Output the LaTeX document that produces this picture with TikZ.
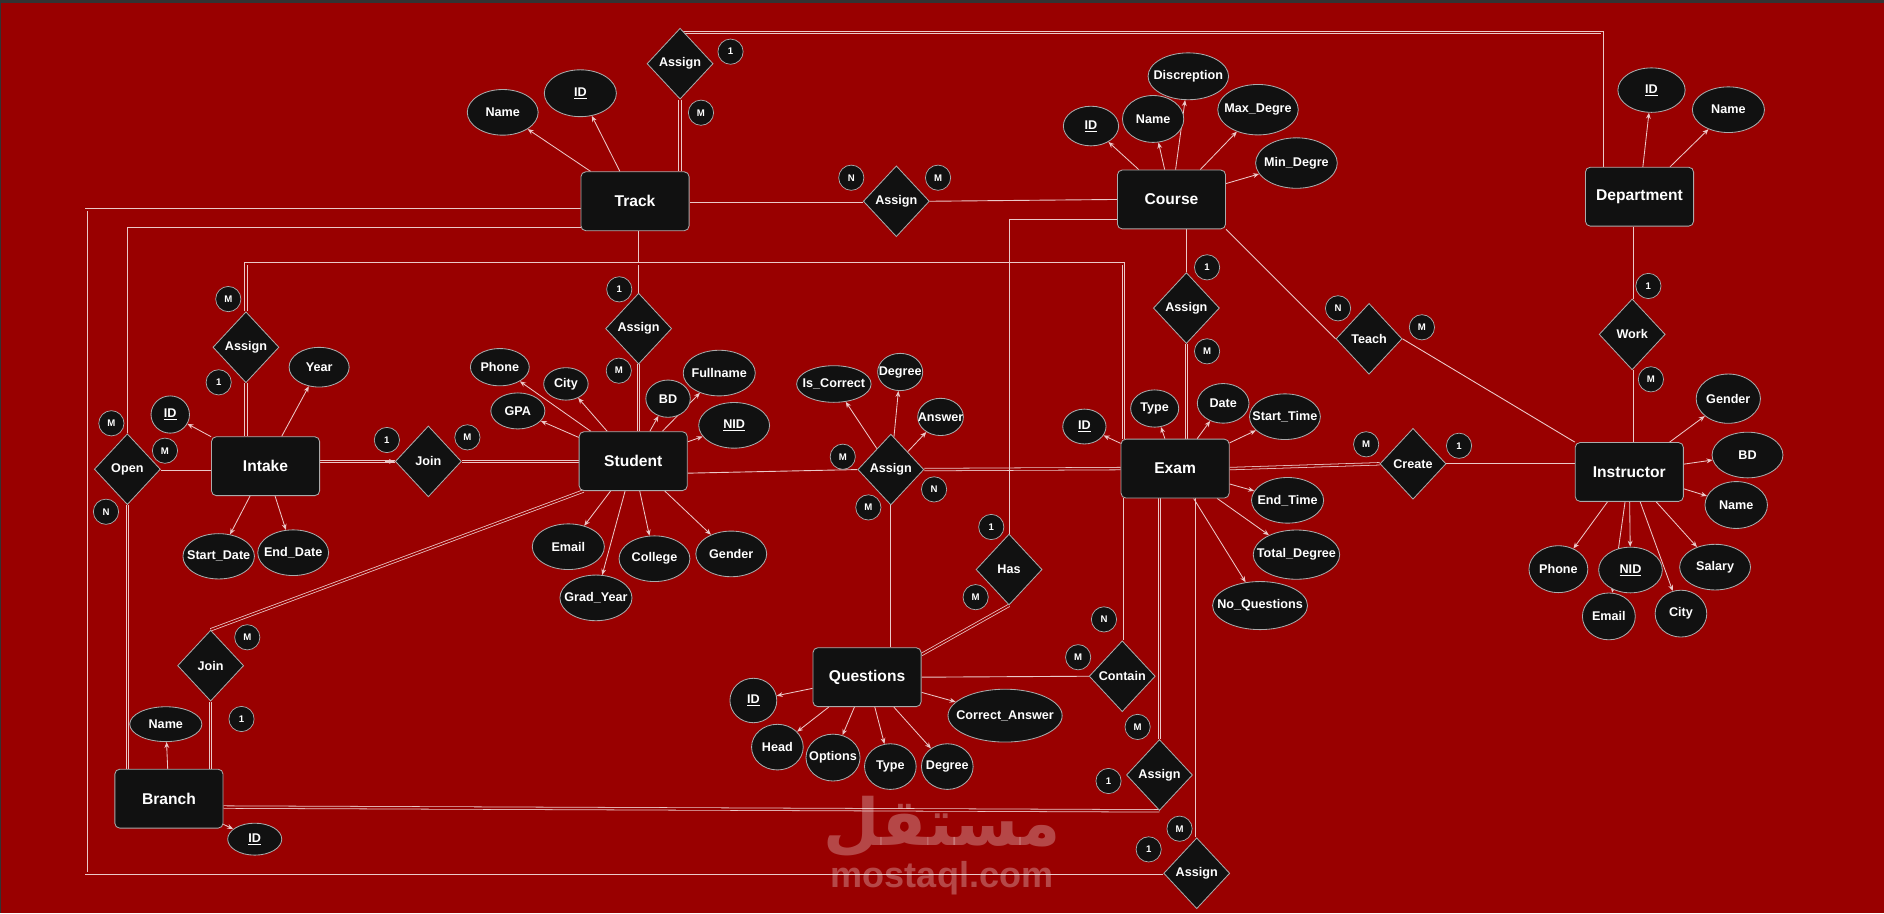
\documentclass[tikz,border=0pt]{standalone}
\usepackage{fontspec}
\setmainfont{Liberation Sans}
\newfontfamily\arabicfont[Script=Arabic]{DejaVu Sans}
\TeXXeTstate=1
\usetikzlibrary{shapes.geometric,arrows.meta,calc}
\definecolor{bgred}{RGB}{153,0,0}
\definecolor{nodef}{RGB}{17,17,17}
\definecolor{nodeb}{RGB}{170,170,170}
\definecolor{linec}{RGB}{235,200,200}
\pgfdeclarelayer{bg}
\pgfsetlayers{bg,main}
\tikzset{
  ent/.style={draw=nodeb, fill=nodef, rounded corners=4pt, minimum width=90pt, minimum height=49pt, inner sep=0pt, text=white, font=\bfseries\fontsize{13}{15}\selectfont, line width=0.7pt},
  rel/.style={diamond, draw=nodeb, fill=nodef, minimum width=55pt, minimum height=59pt, inner sep=0pt, text=white, font=\bfseries\fontsize{10.5}{12}\selectfont, line width=0.7pt},
  att/.style 2 args={ellipse, draw=nodeb, fill=nodef, inner sep=0pt, minimum width=#1pt, minimum height=#2pt, text=white, font=\bfseries\fontsize{10.5}{12}\selectfont, line width=0.7pt},
  card/.style={circle, draw=nodeb, fill=nodef, inner sep=0pt, minimum size=21pt, text=white, font=\bfseries\fontsize{8}{9}\selectfont, line width=0.6pt},
  sl/.style={draw=linec, line width=0.75pt},
  dl/.style={draw=linec, line width=0.65pt, double=bgred, double distance=1.4pt},
  attr/.style={draw=linec, line width=0.7pt, -{Stealth[length=5pt,width=4pt]}},
  wmark/.style={text=white, opacity=0.28},
}
\newcommand{\mb}[1]{\makebox[0pt]{#1}}
\begin{document}
\begin{tikzpicture}[x=1pt,y=-1pt]
\useasboundingbox (0,0) rectangle (1568,760);
% entities
\node[ent] (track) at (528.5,167.5) {Track};
\node[ent] (course) at (975,166) {Course};
\node[ent] (dept) at (1364.5,163.7) {Department};
\node[ent] (intake) at (221,388) {Intake};
\node[ent] (student) at (527,383.8) {Student};
\node[ent] (exam) at (978,390) {Exam};
\node[ent] (instr) at (1356,392.8) {Instructor};
\node[ent] (quest) at (721.6,563.6) {Questions};
\node[ent] (branch) at (140.6,664.7) {Branch};
% relationships
\node[rel] (asgA) at (566,53) {Assign};
\node[rel] (asgB) at (746,167.5) {Assign};
\node[rel] (asgC) at (531.5,273.5) {Assign};
\node[rel] (asgD) at (204.7,289) {Assign};
\node[rel] (open) at (106,390.5) {Open};
\node[rel] (joinA) at (356.5,384) {Join};
\node[rel] (joinB) at (175.3,554) {Join};
\node[rel] (asgE) at (741.4,390.8) {Assign};
\node[rel] (has) at (839.8,474) {Has};
\node[rel] (asgF) at (987.4,256.4) {Assign};
\node[rel] (teach) at (1139.4,282) {Teach};
\node[rel] (work) at (1358.4,278.3) {Work};
\node[rel] (create) at (1176,386) {Create};
\node[rel] (contain) at (934,562.8) {Contain};
\node[rel] (asgG) at (965,645) {Assign};
\node[rel] (asgH) at (996,726.8) {Assign};
% cardinalities
\node[card] (k1) at (608,43) {1};
\node[card] (k2) at (583.4,93.8) {M};
\node[card] (k3) at (708.5,147.9) {N};
\node[card] (k4) at (780.7,147.9) {M};
\node[card] (k5) at (515.4,240.8) {1};
\node[card] (k6) at (515,308.5) {M};
\node[card] (k7) at (190,248.9) {M};
\node[card] (k8) at (182,318.2) {1};
\node[card] (k9) at (92.7,352.3) {M};
\node[card] (k10) at (137.3,375.1) {M};
\node[card] (k11) at (88.2,425.9) {N};
\node[card] (k12) at (322,366.2) {1};
\node[card] (k13) at (389,364) {M};
\node[card] (k14) at (205.8,530.4) {M};
\node[card] (k15) at (201,598.4) {1};
\node[card] (k16) at (701.4,380.1) {M};
\node[card] (k17) at (777.4,407.3) {N};
\node[card] (k18) at (722.7,422.3) {M};
\node[card] (k19) at (825,438.6) {1};
\node[card] (k20) at (812,497) {M};
\node[card] (k21) at (1004.6,222.5) {1};
\node[card] (k22) at (1004.6,292.4) {M};
\node[card] (k23) at (1113.6,256.6) {N};
\node[card] (k24) at (1183.4,272.4) {M};
\node[card] (k25) at (1371.9,238) {1};
\node[card] (k26) at (1374,315.7) {M};
\node[card] (k27) at (1137,369.8) {M};
\node[card] (k28) at (1214.3,371) {1};
\node[card] (k29) at (918.8,515.5) {N};
\node[card] (k30) at (897.3,547) {M};
\node[card] (k31) at (946.8,605) {M};
\node[card] (k32) at (922.6,650) {1};
\node[card] (k33) at (981.7,689.7) {M};
\node[card] (k34) at (956,706.9) {1};
% attributes
\node[att={59}{38}] (tname) at (418.4,93.5) {\mb{Name}};
\node[att={60}{39}] (tid) at (483,77.6) {\mb{\underline{ID}}};
\node[att={46}{33}] (cid) at (908,104.9) {\mb{\underline{ID}}};
\node[att={51}{39}] (cname) at (959.7,99) {\mb{Name}};
\node[att={67}{39}] (cdesc) at (989,63.5) {\mb{Discreption}};
\node[att={67}{42}] (cmax) at (1047,91.3) {\mb{Max\_Degre}};
\node[att={68}{42}] (cmin) at (1079,135.7) {\mb{Min\_Degre}};
\node[att={56}{37}] (did) at (1374.5,75) {\mb{\underline{ID}}};
\node[att={60}{38}] (dname) at (1438.5,91.3) {\mb{Name}};
\node[att={32}{31}] (iid) at (141.7,345) {\mb{\underline{ID}}};
\node[att={50}{33}] (iyear) at (265.6,305.6) {\mb{Year}};
\node[att={59.5}{37.7}] (isd) at (182,463) {\mb{Start\_Date}};
\node[att={59}{38}] (ied) at (244,460) {\mb{End\_Date}};
\node[att={49}{31}] (sphone) at (416,305.6) {\mb{Phone}};
\node[att={37}{27}] (scity) at (471,319.5) {\mb{City}};
\node[att={45}{30}] (sgpa) at (431,342) {\mb{GPA}};
\node[att={37}{31}] (sbd) at (556,331.8) {\mb{BD}};
\node[att={60}{38}] (sfull) at (598.6,310.5) {\mb{Fullname}};
\node[att={59}{38}] (snid) at (611,354) {\mb{\underline{NID}}};
\node[att={60}{38}] (semail) at (473,455) {\mb{Email}};
\node[att={59}{38}] (scollege) at (544.7,465) {\mb{College}};
\node[att={59}{38}] (sgender) at (608.6,461) {\mb{Gender}};
\node[att={60}{38}] (sgrad) at (496,497.6) {\mb{Grad\_Year}};
\node[att={62}{30.5}] (ric) at (694,319.6) {\mb{Is\_Correct}};
\node[att={37.5}{31}] (rdeg) at (749.2,309.6) {\mb{Degree}};
\node[att={38}{31}] (rans) at (782.8,347) {\mb{Answer}};
\node[att={36}{29}] (eid) at (902.5,355) {\mb{\underline{ID}}};
\node[att={40}{31}] (etype) at (961,340) {\mb{Type}};
\node[att={43}{33}] (edate) at (1018,335.7) {\mb{Date}};
\node[att={59}{38}] (est) at (1069.4,346.8) {\mb{Start\_Time}};
\node[att={60}{38}] (eet) at (1071.6,416.4) {\mb{End\_Time}};
\node[att={72}{41}] (etd) at (1079,461.6) {\mb{Total\_Degree}};
\node[att={79}{40}] (enq) at (1048.7,504) {\mb{No\_Questions}};
\node[att={53.5}{41}] (igender) at (1438.4,331.8) {\mb{Gender}};
\node[att={59}{38}] (ibd) at (1454.4,378.7) {\mb{BD}};
\node[att={52}{39}] (iname) at (1445,420.3) {\mb{Name}};
\node[att={49}{39}] (iphone) at (1297,473.7) {\mb{Phone}};
\node[att={53}{38}] (inid) at (1357,474.4) {\mb{\underline{NID}}};
\node[att={59}{38}] (isal) at (1427.4,472) {\mb{Salary}};
\node[att={44}{39}] (iemail) at (1339,513) {\mb{Email}};
\node[att={43}{39}] (icity) at (1399,510.7) {\mb{City}};
\node[att={39}{37}] (qid) at (627,583) {\mb{\underline{ID}}};
\node[att={43}{38}] (qhead) at (647,621.8) {\mb{Head}};
\node[att={45}{39}] (qopt) at (693.3,630.5) {\mb{Options}};
\node[att={43}{38}] (qtype) at (741,638) {\mb{Type}};
\node[att={43}{38}] (qdeg) at (788.4,638) {\mb{Degree}};
\node[att={95}{44}] (qca) at (836.5,595.6) {\mb{Correct\_Answer}};
\node[att={60}{29}] (bname) at (138,602.7) {\mb{Name}};
\node[att={45}{26.6}] (bid) at (212,698.4) {\mb{\underline{ID}}};
% watermark
\node[wmark, font=\arabicfont\bfseries\fontsize{54}{60}\selectfont] (wm1) at (784,688) {\beginR مستقل\endR};
\node[wmark, font=\bfseries\fontsize{30}{32}\selectfont] (wm2) at (784,731) {mostaql.com};
\begin{pgfonlayer}{bg}
\fill[bgred] (0,0) rectangle (1568,760);
\fill[black!80] (0,0) rectangle (1568,2.5);
\fill[black!80] (0,0) rectangle (1.2,760);
\coordinate (lk) at (71.7,726.8);
\coordinate (cfour) at (935,219.5);
\coordinate (dtop) at (203.5,219.5);
% relationship connectors
\draw[dl] (asgA.south) -- (asgA.south |- track.north);
\draw[dl] ([yshift=-4pt]asgA.north) -| ([xshift=-31pt]dept.north);
\draw[dl] (track.east) -- (asgB.west);
\draw[sl] (asgB.east) -- (course.west);
\draw[sl] (asgC.north) -- (asgC.north |- track.south);
\draw[dl] (asgC.south) -- (asgC.south |- student.north);
\draw[dl] ([yshift=-7pt]track.west) -| (lk) -- (asgH.west);
\draw[sl] ([yshift=-22pt]track.west) -| (open.north);
\draw[dl] (open.east) -- (open.east -| intake.west);
\draw[dl] (open.south) -- (open.south |- branch.north);
\draw[dl] (asgD.south) -- (asgD.south |- intake.north);
\draw[dl] (asgD.north) -- (asgD.north |- dtop) -- (cfour) -- (cfour |- exam.north);
\draw[dl] ([yshift=4pt]intake.east) -- (joinA.west);
\draw[sl,-{Stealth[length=5pt,width=4pt]}] ([xshift=-8pt]joinA.west) -- (joinA.west);
\draw[dl] (joinA.east) -- (joinA.east -| student.west);
\draw[sl] ([yshift=-10pt]student.east) -- (asgE.west);
\draw[dl] (asgE.east) -- (exam.west);
\draw[sl] (asgE.south) -- (asgE.south |- quest.north);
\draw[dl] ([xshift=4pt]student.south west) -- (joinB.north);
\draw[dl] (joinB.south) -- (joinB.south |- branch.north);
\draw[sl] ([yshift=-16.5pt]course.west) -| (has.north);
\draw[dl] (has.south) -- ([yshift=-6pt]quest.north east);
\draw[sl] (quest.east) -- (contain.west);
\draw[dl] (contain.north) -- (contain.north |- exam.south);
\draw[dl] (asgG.north) -- (asgG.north |- exam.south);
\draw[dl] ([yshift=-7pt]branch.east) -- (asgG.south);
\draw[dl] (asgH.north) -- (asgH.north |- exam.south);
\draw[sl] (asgF.north) -- (asgF.north |- course.south);
\draw[dl] (asgF.south) -- (asgF.south |- exam.north);
\draw[sl] (course.south east) -- (teach.west);
\draw[sl] (teach.east) -- (instr.north west);
\draw[dl] (work.north) -- (work.north |- dept.south);
\draw[dl] (work.south) -- (work.south |- instr.north);
\draw[dl] (exam.east) -- (create.west);
\draw[sl] (create.east) -- (create.east -| instr.west);
% attribute arrows
\foreach \p/\q in {track/tname, track/tid, course/cid, course/cname, course/cdesc, course/cmax, course/cmin, dept/did, dept/dname, intake/iid, intake/iyear, intake/isd, intake/ied, student/sphone, student/scity, student/sgpa, student/sbd, student/sfull, student/snid, student/semail, student/scollege, student/sgender, student/sgrad, asgE/ric, asgE/rdeg, asgE/rans, exam/eid, exam/etype, exam/edate, exam/est, exam/eet, exam/etd, exam/enq, instr/igender, instr/ibd, instr/iname, instr/iphone, instr/inid, instr/isal, instr/iemail, instr/icity, quest/qid, quest/qhead, quest/qopt, quest/qtype, quest/qdeg, quest/qca, branch/bname, branch/bid}
  \draw[attr] (\p) -- (\q);
\end{pgfonlayer}
\end{tikzpicture}
\end{document}
